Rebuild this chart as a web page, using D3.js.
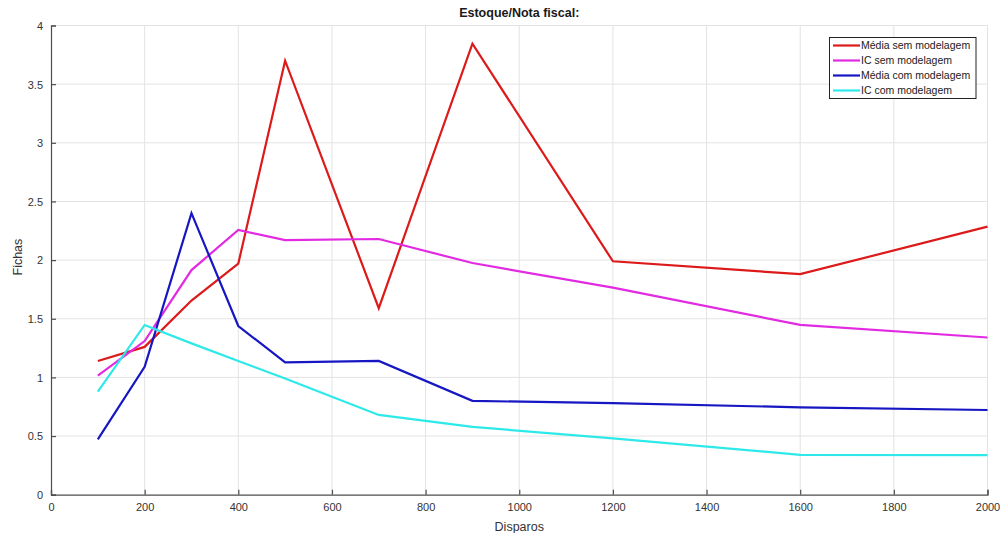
<!DOCTYPE html>
<html>
<head>
<meta charset="utf-8">
<script src="https://cdn.jsdelivr.net/npm/d3@7"></script>
<style>
  html, body { margin: 0; padding: 0; background: #fff; }
  svg { display: block; font-family: "Liberation Sans", Arial, Helvetica, sans-serif; }
</style>
</head>
<body>
<svg id="chart" width="1003" height="533"></svg>
<script>
// Shots (x) and the four measured series
const disparos = [100, 200, 300, 400, 500, 700, 900, 1200, 1600, 2000];
const mediaSem = [1.14, 1.26, 1.655, 1.97, 3.70, 1.59, 3.845, 1.99, 1.88, 2.285];
const icSem    = [1.015, 1.31, 1.915, 2.257, 2.17, 2.18, 1.975, 1.765, 1.448, 1.34];
const mediaCom = [0.472, 1.09, 2.40, 1.438, 1.128, 1.14, 0.80, 0.78, 0.745, 0.722];
const icCom    = [0.878, 1.447, 1.29, 1.14, 0.99, 0.68, 0.578, 0.48, 0.34, 0.338];

const seriesNames = ["Média sem modelagem", "IC sem modelagem", "Média com modelagem", "IC com modelagem"];
const seriesColors = ["#dc1a1a", "#e22ae2", "#1616c2", "#2ee9e9"];
const seriesValues = [mediaSem, icSem, mediaCom, icCom];

const xTicks = [0, 200, 400, 600, 800, 1000, 1200, 1400, 1600, 1800, 2000];
const yTicks = [0, 0.5, 1, 1.5, 2, 2.5, 3, 3.5, 4];

const svg = d3.select("#chart");
const plotL = 51, plotR = 987.5, plotT = 25.5, plotB = 494.7;

const x = d3.scaleLinear().domain([0, 2000]).range([plotL, plotR]);
const y = d3.scaleLinear().domain([0, 4]).range([plotB, plotT]);

const axisColor = "#4d4d4d";
const textColor = "#333";

// grid
const grid = svg.append("g");
grid.selectAll("line.gx").data(xTicks.slice(1)).join("line")
  .attr("x1", d => x(d)).attr("x2", d => x(d))
  .attr("y1", plotT).attr("y2", plotB)
  .attr("stroke", "#e3e3e3").attr("stroke-width", 1);
grid.selectAll("line.gy").data(yTicks.slice(1)).join("line")
  .attr("x1", plotL).attr("x2", plotR)
  .attr("y1", d => y(d)).attr("y2", d => y(d))
  .attr("stroke", "#e3e3e3").attr("stroke-width", 1);

// axes with inward ticks
const xAxis = d3.axisBottom(x).tickValues(xTicks).tickSize(-5).tickPadding(9).tickFormat(d3.format("d"));
const yAxis = d3.axisLeft(y).tickValues(yTicks).tickSize(-5).tickPadding(8).tickFormat(d => String(d));

const gx = svg.append("g").attr("transform", `translate(0,${plotB})`).call(xAxis);
const gy = svg.append("g").attr("transform", `translate(${plotL},0)`).call(yAxis);
[gx, gy].forEach(g => {
  g.select(".domain").attr("stroke", axisColor).attr("stroke-width", 1.2);
  g.selectAll(".tick line").attr("stroke", axisColor).attr("stroke-width", 1.2);
  g.selectAll(".tick text").attr("fill", textColor).style("font-size", "11px")
    .style("font-family", "'Liberation Sans', Arial, sans-serif");
});
gy.selectAll(".tick text").attr("dy", "0.35em");

// lines
const line = d3.line().x((d, i) => x(disparos[i])).y(d => y(d));
seriesValues.forEach((vals, k) => {
  svg.append("path").datum(vals)
    .attr("fill", "none")
    .attr("stroke", seriesColors[k])
    .attr("stroke-width", 2.2)
    .attr("stroke-linejoin", "miter")
    .attr("d", line);
});

// title and axis labels
svg.append("text").attr("x", (plotL + plotR) / 2).attr("y", 17)
  .attr("text-anchor", "middle").style("font-size", "12.5px").style("font-weight", "bold")
  .attr("fill", "#1a1a1a").text("Estoque/Nota fiscal:");
svg.append("text").attr("x", (plotL + plotR) / 2).attr("y", 531)
  .attr("text-anchor", "middle").style("font-size", "12.5px").attr("fill", textColor).text("Disparos");
svg.append("text").attr("transform", `translate(22,${(plotT + plotB) / 2 - 3}) rotate(-90)`)
  .attr("text-anchor", "middle").style("font-size", "12.5px").attr("fill", textColor).text("Fichas");

// legend
const lg = svg.append("g");
lg.append("rect").attr("x", 829.5).attr("y", 37.5).attr("width", 146.5).attr("height", 61)
  .attr("fill", "#fff").attr("stroke", "#222").attr("stroke-width", 1);
seriesNames.forEach((name, k) => {
  const yy = 45.5 + k * 15;
  lg.append("line").attr("x1", 833).attr("x2", 860).attr("y1", yy).attr("y2", yy)
    .attr("stroke", seriesColors[k]).attr("stroke-width", 2.2);
  lg.append("text").attr("x", 861).attr("y", yy).attr("dy", "0.35em")
    .style("font-size", "10.5px").attr("fill", "#1a1a1a").text(name);
});
</script>
</body>
</html>
